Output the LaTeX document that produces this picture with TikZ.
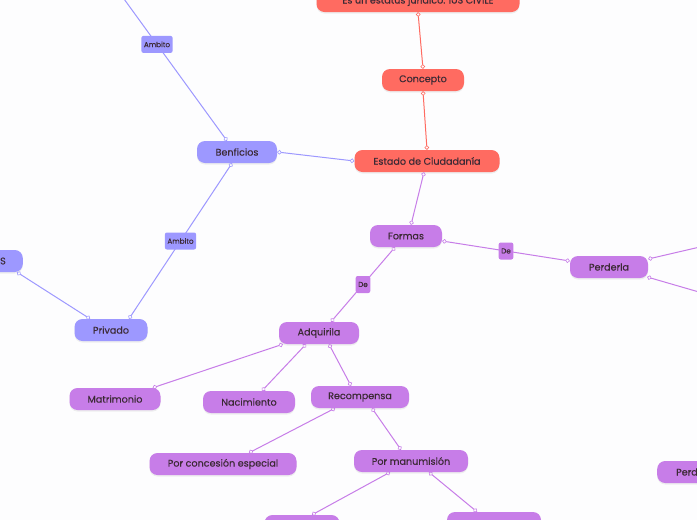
\documentclass[tikz,border=0pt]{standalone}
\usepackage{fontspec}
\setmainfont{Poppins}[FakeBold=0.35]
\usepackage{tikz}
\usetikzlibrary{positioning, arrows.meta, shadows}
\definecolor{mred}{HTML}{FF6B61}
\definecolor{mblu}{HTML}{9D98FF}
\definecolor{mpur}{HTML}{C77DE8}
\definecolor{mtxt}{HTML}{3C2A35}
\definecolor{mbg}{HTML}{FDFDFE}

\begin{document}
\begin{tikzpicture}[
  x=1pt, y=-1pt,
  font=\fontsize{9.6}{11}\selectfont,
  box/.style={rounded corners=8pt, minimum height=22pt, inner sep=0pt,
              text=mtxt, align=center,
              drop shadow={opacity=0.12, shadow xshift=0pt, shadow yshift=-1.5pt}},
  redN/.style={box, fill=mred},
  bluN/.style={box, fill=mblu},
  purN/.style={box, fill=mpur},
  lbl/.style={rounded corners=2pt, minimum height=17pt, inner sep=2.5pt,
              text=mtxt, font=\fontsize{7.2}{8}\selectfont},
  lblB/.style={lbl, fill=mblu},
  lblP/.style={lbl, fill=mpur},
  ring/.style={{Circle[open, length=4.5pt, width=4.5pt, line width=0.6pt]}-{Circle[open, length=4.5pt, width=4.5pt, line width=0.6pt]}},
  eR/.style={draw=mred, line width=1pt, ring},
  eB/.style={draw=mblu, line width=1pt, ring},
  eP/.style={draw=mpur, line width=1pt, ring}
]
\clip (0,0) rectangle (697,520);
\fill[mbg] (0,0) rectangle (697,520);

% ---- Concepto branch (red) ----
\node[redN, minimum width=203pt] (iusc) at (418,1)
      {Es un estatus jurídico: IUS CIVILE};
\node[redN, minimum width=82pt]  (conc) at (423,80) {Concepto};
\node[redN, minimum width=145pt] (est)  at (427,161) {Estado de Ciudadanía};

\draw[eR] (iusc.south) -- (conc.north);
\draw[eR] (conc.south) -- (est.north);

% ---- Benficios branch (blue) ----
\node[bluN, minimum width=80pt] (ben)  at (237,152) {Benficios};
\node[bluN, minimum width=73pt] (priv) at (111,330) {Privado};
\node[bluN, minimum width=90pt, anchor=east, text width=56pt, align=right]
      (pubs) at (23,261) {S};
\coordinate (offnw) at (87,-52);

\draw[eB] (ben.east) -- (est.west);
\draw[eB] ([xshift=-10pt]ben.north) -- node[lblB] (amb1) {Ambito} (offnw);
\draw[eB] ([xshift=-5pt]ben.south) -- node[lblB] (amb2) {Ambito}
          ([xshift=18pt]priv.north);
\draw[eB] ([xshift=-6pt]pubs.south east) -- ([xshift=-21pt]priv.north);

% ---- Formas branch (purple) ----
\node[purN, minimum width=72pt]  (form) at (406,236) {Formas};
\node[purN, minimum width=78pt]  (perd) at (609,267) {Perderla};
\node[purN, minimum width=80pt]  (adq)  at (319,333) {Adquirila};
\node[purN, minimum width=91pt]  (matr) at (115,399) {Matrimonio};
\node[purN, minimum width=92pt]  (nac)  at (249,402) {Nacimiento};
\node[purN, minimum width=98pt]  (rec)  at (360,397) {Recompensa};
\node[purN, minimum width=147pt] (esp)  at (223,464) {Por concesión especial};
\node[purN, minimum width=114pt] (manu) at (411,461) {Por manumisión};
\node[purN, minimum width=75pt]  (bl)   at (302,526) {};
\node[purN, minimum width=94pt]  (br)   at (494,523) {};
\node[purN, minimum width=90pt, anchor=west, text width=52pt, align=left]
      (perd2) at (657,472) {Perd};
\coordinate (offe1) at (730,240);
\coordinate (offe2) at (730,301);

\draw[eP] ([xshift=-3pt]est.south) -- ([xshift=5pt]form.north);
\draw[eP] ([xshift=-11pt]form.south) -- node[lblP] (de1) {De}
          ([xshift=12pt]adq.north);
\draw[eP] ([yshift=-5pt]form.east) -- node[lblP] (de2) {De}
          ([yshift=6pt]perd.west);
\draw[eP] ([yshift=8pt]perd.east) -- (offe1);
\draw[eP] ([xshift=-1pt,yshift=-10pt]perd.east) -- (offe2);

\draw[eP] ([xshift=4pt]adq.south west) -- ([xshift=-8pt]matr.north east);
\draw[eP] ([xshift=-13pt]adq.south) -- ([xshift=13pt]nac.north);
\draw[eP] ([xshift=10pt]adq.south) -- ([xshift=-9pt]rec.north);
\draw[eP] ([xshift=-25pt]rec.south) -- ([xshift=26pt]esp.north);
\draw[eP] ([xshift=12pt]rec.south) -- ([xshift=-10pt]manu.north);
\draw[eP] ([xshift=-21pt]manu.south) -- ([xshift=10pt]bl.north);
\draw[eP] ([xshift=18pt]manu.south) -- ([xshift=-17pt]br.north);

\end{tikzpicture}
\end{document}
